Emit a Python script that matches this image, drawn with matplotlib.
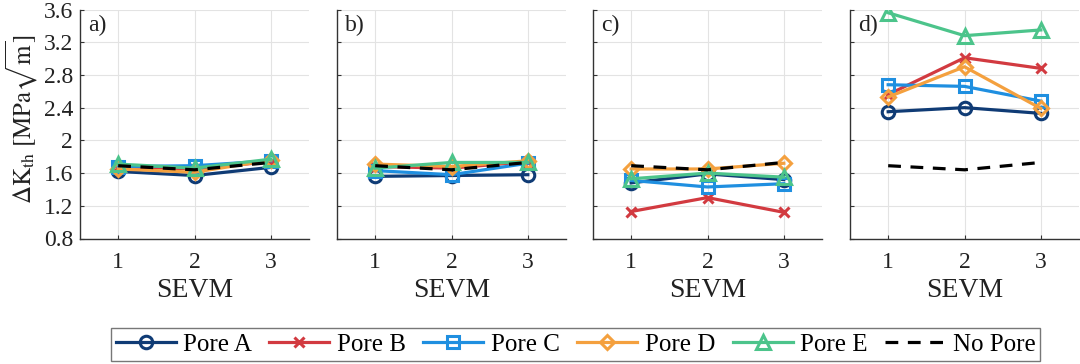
import matplotlib
matplotlib.use("Agg")
import matplotlib.pyplot as plt
import numpy as np

plt.rcParams['font.family'] = ['Liberation Serif', 'DejaVu Serif']
plt.rcParams['mathtext.fontset'] = 'stix'

sevm = [1, 2, 3]
panel_labels = ['a)', 'b)', 'c)', 'd)']
series_names = ['Pore A', 'Pore B', 'Pore C', 'Pore D', 'Pore E']

# values per panel (a..d), per series
pore_a = [[1.62, 1.57, 1.67], [1.56, 1.57, 1.58], [1.48, 1.59, 1.52], [2.35, 2.40, 2.33]]
pore_b = [[1.68, 1.65, 1.74], [1.68, 1.66, 1.74], [1.13, 1.30, 1.12], [2.56, 3.01, 2.88]]
pore_c = [[1.68, 1.69, 1.75], [1.63, 1.58, 1.72], [1.51, 1.43, 1.47], [2.68, 2.66, 2.48]]
pore_d = [[1.65, 1.61, 1.76], [1.71, 1.68, 1.75], [1.65, 1.65, 1.72], [2.53, 2.90, 2.39]]
pore_e = [[1.71, 1.66, 1.77], [1.66, 1.73, 1.73], [1.53, 1.60, 1.55], [3.56, 3.28, 3.35]]
no_pore = [1.69, 1.64, 1.73]

colors = ['#0f3b75', '#d23a40', '#1f8fe0', '#f4a03e', '#4cc48b']
markers = ['o', 'x', 's', 'D', '^']
msizes = [9, 7, 8, 7, 10]

all_series = [pore_a, pore_b, pore_c, pore_d, pore_e]

W, H = 1080, 364
fig = plt.figure(figsize=(W / 100, H / 100), dpi=100)

lefts = [80, 337, 593, 850]
ax_w = 229
top, bottom = 9.5, 238.5

handles = []
for i in range(4):
    ax = fig.add_axes([lefts[i] / W, 1 - bottom / H, ax_w / W, (bottom - top) / H])
    for k, s in enumerate(all_series):
        h, = ax.plot(sevm, s[i], color=colors[k], marker=markers[k], lw=2.3,
                     markersize=msizes[k], markerfacecolor='none', markeredgewidth=2.2,
                     label=series_names[k])
        if i == 0:
            handles.append(h)
    h, = ax.plot(sevm, no_pore, color='black', ls=(0, (4, 3)), lw=2.3, label='No Pore')
    if i == 0:
        handles.append(h)

    ax.set_xlim(0.5, 3.5)
    ax.set_ylim(0.8, 3.6)
    ax.set_xticks(sevm)
    ax.set_yticks(np.arange(0.8, 3.61, 0.4))
    ax.grid(True, color='#e3e3e3', lw=0.8)
    ax.set_axisbelow(True)
    for sp in ['top', 'right']:
        ax.spines[sp].set_visible(False)
    for sp in ['left', 'bottom']:
        ax.spines[sp].set_color('#333333')
        ax.spines[sp].set_linewidth(1.0)
    ax.tick_params(direction='in', length=3, color='#333333', labelsize=17,
                   labelcolor='#222222')
    ax.tick_params(axis='x', pad=10)
    ax.tick_params(axis='y', pad=5)
    ax.set_yticklabels(['0.8', '1.2', '1.6', '2', '2.4', '2.8', '3.2', '3.6'])
    if i > 0:
        ax.tick_params(axis='y', labelleft=False)
    else:
        ax.set_ylabel(r'$\Delta\mathrm{K}_{\mathrm{th}}\ [\mathrm{MPa}\sqrt{\mathrm{m}}]$',
                      fontsize=18, color='#222222')
        ax.yaxis.set_label_coords(-0.175, 0.52)
    ax.set_xlabel('SEVM', fontsize=20, color='#222222', labelpad=3)
    ax.text(0.035, 0.975, panel_labels[i], transform=ax.transAxes, fontsize=17,
            va='top', ha='left', color='#222222')

leg = fig.legend(handles=handles, loc='center', bbox_to_anchor=(575.5 / W, 1 - 344.5 / H),
                 ncol=6, fontsize=18, frameon=True, fancybox=False,
                 handlelength=2.4, columnspacing=0.7, handletextpad=0.3,
                 borderpad=0.2, borderaxespad=0)
leg.get_frame().set_edgecolor('#555555')
leg.get_frame().set_linewidth(1.0)

fig.savefig('out.png', dpi=100)
